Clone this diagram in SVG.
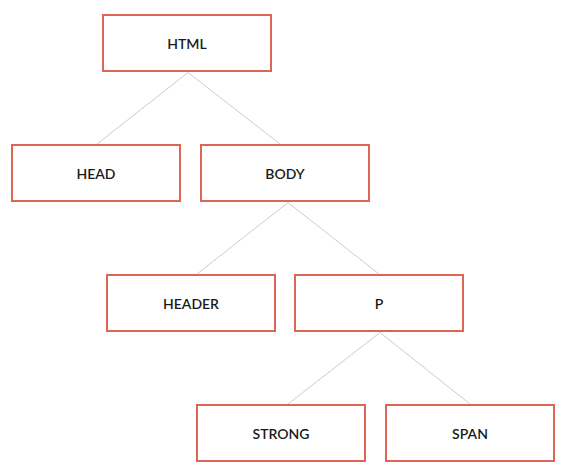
<svg xmlns="http://www.w3.org/2000/svg" width="567" height="476" viewBox="0 0 567 476">
<style>
.box{fill:#fff;stroke:#dc6553;stroke-width:2}
.lbl{font-family:Lato,"Noto Sans",sans-serif;font-size:14px;font-weight:600;fill:#1a1a1a;text-anchor:middle}
.link{stroke:#cccccc;stroke-width:1;fill:none}
</style>
<rect width="567" height="476" fill="#fff"/>
<g id="connectors">
<line class="link" x1="188" y1="72.5" x2="97" y2="144"/>
<line class="link" x1="188" y1="72.5" x2="280" y2="144"/>
<line class="link" x1="288" y1="202.5" x2="197" y2="274"/>
<line class="link" x1="288" y1="202.5" x2="379" y2="274"/>
<line class="link" x1="380" y1="332.5" x2="288" y2="404"/>
<line class="link" x1="380" y1="332.5" x2="470" y2="404"/>
</g>
<g id="node-html"><rect class="box" x="103" y="15" width="168" height="56"/><text class="lbl" x="187" y="48.5">HTML</text></g>
<g id="node-head"><rect class="box" x="12" y="145" width="168" height="56"/><text class="lbl" x="96" y="178.5">HEAD</text></g>
<g id="node-body"><rect class="box" x="201" y="145" width="168" height="56"/><text class="lbl" x="285" y="178.5">BODY</text></g>
<g id="node-header"><rect class="box" x="107" y="275" width="168" height="56"/><text class="lbl" x="191" y="308.5">HEADER</text></g>
<g id="node-p"><rect class="box" x="295" y="275" width="168" height="56"/><text class="lbl" x="379" y="308.5">P</text></g>
<g id="node-strong"><rect class="box" x="197" y="405" width="168" height="56"/><text class="lbl" x="281" y="438.5">STRONG</text></g>
<g id="node-span"><rect class="box" x="386" y="405" width="168" height="56"/><text class="lbl" x="470" y="438.5">SPAN</text></g>
</svg>
